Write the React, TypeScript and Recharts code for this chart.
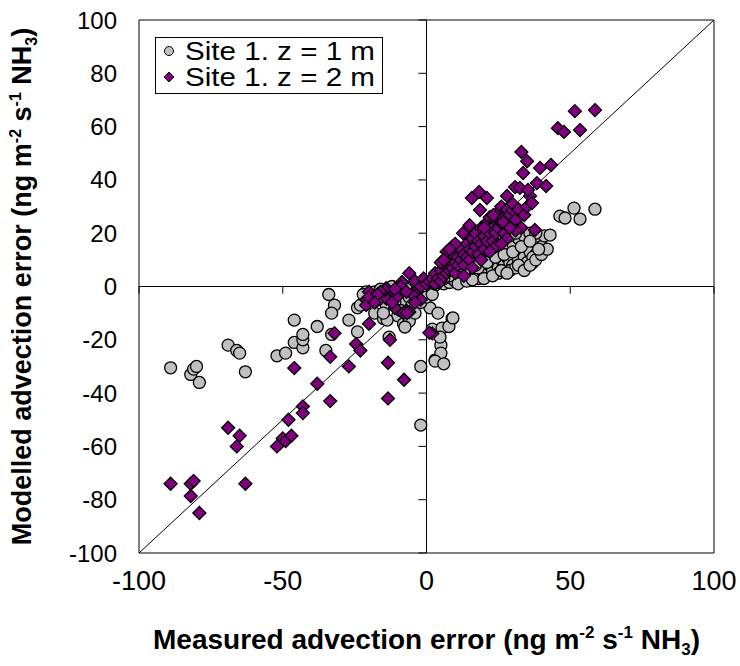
import React from 'react';
import {
  ScatterChart,
  Scatter,
  XAxis,
  YAxis,
  ReferenceLine,
  ReferenceArea,
  Legend,
} from 'recharts';

// measured vs modelled advection error, site 1 at z = 1 m (grey circles)
const site1z1: [number, number][] = [
  [1, 0], [2, 1], [3, 0.5], [4, 1.5], [5, 2], [6, 1], [7, 2.5], [8, 1.5], [9, 3], [10, 2],
  [11, 4], [12, 3], [13, 2.5], [14, 5], [15, 3.5], [16, 6], [17, 4], [18, 3], [19, 6.5], [20, 5],
  [21, 4.5], [22, 8], [23, 6], [24, 9], [25, 7], [26, 10], [27, 8], [28, 11], [29, 9], [30, 8],
  [31, 12.5], [32, 10], [33, 14], [34, 11], [35, 16], [36, 13], [37, 9], [38, 12], [39, 17], [40, 15],
  [41, 19], [43, 19.3], [46.4, 26.4], [48.2, 25.7], [51.3, 29.4], [53.4, 25.3], [58.6, 29],
  [10, 6], [12, 7], [14, 8], [16, 9], [18, 10], [20, 11], [22, 12], [24, 13], [26, 14], [28, 15],
  [30, 16], [32, 18], [34, 19], [36, 20], [38, 20], [15, 9], [18, 7], [21, 9], [24, 11], [27, 12],
  [30, 13], [33, 15], [36, 17], [13, 5], [17, 8], [25, 5], [29, 6], [31, 7], [35, 9], [37, 11],
  [8, 4], [6, 3], [4, 2.5], [11, 1], [14, 2], [16, 2.5], [20, 3], [23, 4], [26, 6], [28, 5],
  [32, 8], [34, 6], [36, 8], [38, 10], [40, 12], [42, 14], [39, 14], [19, 13], [22, 15], [25, 16],
  [27, 18], [29, 19], [31, 20],
  [-89, -30.5], [-82, -33], [-81, -31], [-80, -30], [-79, -36], [-69, -22], [-66, -24], [-65, -25],
  [-63, -32], [-52, -26], [-49, -25], [-46, -21], [-43, -23], [-46, -12.6], [-43, -20], [-43, -18],
  [-38, -15], [-35, -24], [-34, -3], [-32, -7], [-33, -10], [-33, -18], [-27, -12.6], [-24, -8],
  [-23, -7], [-24, -17], [-21, -2], [-19, -4], [-18, -10], [-14, -7], [-15, -12], [-13, -19],
  [-10, -11], [-8, -14], [-6, -13], [-2, -30], [-2, -52], [3, -27.6], [2, -16], [5, -22], [5, -25],
  [3, -28], [6, -29], [1.2, -8], [4, -10], [8.9, -12], [5.4, -15.6], [4.7, -19], [-7.5, -15.2],
  [-13.7, -12.6], [-15, -10], [7.8, -15], [9.2, -11.8],
  [-18, -2], [-16, -1], [-12, -3], [-10, -2], [-8, -5], [-6, -4], [-5, -7], [-3, -3], [-2, -6],
  [-1, -2], [0, -4], [2, -3], [-20, -5], [-11, -6], [-9, -9], [-4, -10], [-7, -1], [-12, 0],
  [-22, -3], [-17, -5],
];

// site 1 at z = 2 m (purple diamonds)
const site1z2: [number, number][] = [
  [-89, -74], [-82, -78.6], [-82, -74], [-81, -73], [-79, -85], [-69, -53], [-66, -60], [-65, -56],
  [-63, -74], [-52, -60], [-50, -57], [-49, -58], [-47, -56], [-48, -50], [-46, -30.6], [-43, -45],
  [-43, -47.5], [-38, -36.5], [-33.5, -43], [-33.5, -26.4], [-32, -17.5], [-27, -30], [-24.5, -21.6],
  [-23, -24], [-20, -14], [-13.4, -28.6], [-13.4, -42], [-12.7, -20], [-7.8, -35], [2, -17.6],
  [-20, -2], [-21, -5], [-14, -3], [-10, -2], [-7, -9], [-8, -10], [-21, -7], [-20, -4], [-14, -0.6],
  [-14, -4.5], [-11, -8], [-6, -9.6], [1, -17.4], [-8.5, 1.7], [-6, 5], [-3.5, -1.3], [2.4, 1.2],
  [-6.8, -10], [-14.4, -1.3], [-10.3, -3.9], [-16, -2], [-12, -6], [-5, -3], [-4, 2], [-2, 0],
  [-1, 3], [0, 1], [-9, 0], [-17, -3], [-2, -5], [-18, -6], [-11, -1], [-7, -2], [-4, -6],
  [1, 2], [2, 3], [3, 1], [3, 5], [4, 3], [5, 6], [5, 2], [6, 4], [7, 8], [7, 5], [8, 6], [8, 10],
  [9, 7], [9, 12], [10, 9], [10, 5], [11, 11], [11, 8], [12, 14], [12, 10], [13, 12], [13, 8],
  [14, 16], [14, 11], [15, 14], [15, 10], [16, 18], [16, 13], [17, 15], [17, 20], [18, 17], [18, 12],
  [19, 22], [19, 16], [20, 19], [20, 14], [21, 24], [21, 17], [22, 20], [22, 26], [23, 22], [23, 17],
  [24, 25], [24, 20], [25, 28], [25, 22], [26, 24], [26, 30], [27, 26], [27, 20], [28, 29], [28, 23],
  [29, 27], [30, 28.7], [30, 31], [31, 25], [32, 29], [33, 22], [34, 26.8], [35, 30], [36, 34],
  [37.7, 21.2], [36.7, 31.3],
  [15.8, 33.2], [18.3, 35.5], [21, 33.2], [28, 34], [30.8, 37.3], [32.5, 37], [35.3, 36.2],
  [38.4, 38.8], [41.6, 37.7], [39.5, 44.5], [43.3, 45.6], [33.6, 42.6], [35, 47], [33, 50.5],
  [45.7, 59.4], [47.8, 58], [53.4, 58.7], [51.6, 65.8], [58.6, 66.2],
  [23.2, 26.8], [26.6, 24.2], [18.6, 28.7], [12.7, 20], [15, 23], [9, 15], [7, 13], [5, 9],
  [20, 22], [24, 15], [28, 18], [31, 21], [13, 4], [16, 7], [19, 10], [22, 13], [26, 16], [29, 22],
  [10, 16], [8, 14], [6, 10],
];

const xTicks = [-100, -50, 0, 50, 100];
const yTicks = [-100, -80, -60, -40, -20, 0, 20, 40, 60, 80, 100];
const seriesNames = ['Site 1. z = 1 m', 'Site 1. z = 2 m'];

const FONT = '"Liberation Sans", Arial, sans-serif';

const toPoints = (arr: [number, number][]) => arr.map(([x, y]) => ({ x, y }));

const Circle = (props: any) => (
  <circle cx={props.cx} cy={props.cy} r={6} fill="#c0c0c0" stroke="#000" strokeWidth={1.3} />
);

const Diamond = (props: any) => {
  const { cx, cy } = props;
  const s = 6.5;
  return (
    <path
      d={`M${cx},${cy - s}L${cx + s},${cy}L${cx},${cy + s}L${cx - s},${cy}Z`}
      fill="#800080"
      stroke="#000"
      strokeWidth={1.3}
    />
  );
};

const Units = ({ size }: { size: number }) => {
  const sm = Math.round(size * 0.6);
  const up = Math.round(size * 0.38);
  const dn = Math.round(size * 0.22);
  return (
    <>
      (ng m<tspan dy={-up} fontSize={sm}>-2</tspan>
      <tspan dy={up}> s</tspan><tspan dy={-up} fontSize={sm}>-1</tspan>
      <tspan dy={up}> NH</tspan><tspan dy={dn} fontSize={sm}>3</tspan><tspan dy={-dn}>)</tspan>
    </>
  );
};

const XTitle = (props: any) => {
  const { viewBox } = props;
  const cx = viewBox.x + viewBox.width / 2;
  return (
    <text x={cx} y={viewBox.y + 96} textAnchor="middle" fontFamily={FONT} fontWeight="bold" fontSize={28} fill="#000">
      Measured advection error <Units size={28} />
    </text>
  );
};

const YTitle = (props: any) => {
  const { viewBox } = props;
  const cy = viewBox.y + viewBox.height / 2;
  const x = 22;
  return (
    <text
      x={x}
      y={cy}
      transform={`rotate(-90, ${x}, ${cy})`}
      dy="0.35em"
      textAnchor="middle"
      fontFamily={FONT}
      fontWeight="bold"
      fontSize={27}
      fill="#000"
    >
      Modelled advection error <Units size={27} />
    </text>
  );
};

const LegendBox = () => (
  <svg width={229} height={58} style={{ display: 'block' }}>
    <rect x={0.5} y={0.5} width={227} height={56} fill="#fff" stroke="#000" />
    <circle cx={14} cy={14} r={4.5} fill="#c0c0c0" stroke="#000" strokeWidth={1} />
    <text x={30} y={23} fontFamily={FONT} fontSize={25} fill="#000" textLength={190} lengthAdjust="spacingAndGlyphs">
      {seriesNames[0]}
    </text>
    <path d="M14,35L19,40L14,45L9,40Z" fill="#800080" stroke="#000" strokeWidth={1} />
    <text x={30} y={49} fontFamily={FONT} fontSize={25} fill="#000" textLength={190} lengthAdjust="spacingAndGlyphs">
      {seriesNames[1]}
    </text>
  </svg>
);

export default function App() {
  return (
    <div style={{ width: 740, height: 666, position: 'relative', overflow: 'hidden' }}>
      <style>{'body{margin:0;overflow:hidden}'}</style>
      <ScatterChart width={740} height={666} margin={{ top: 20, right: 26, bottom: 33, left: 0 }}>
        <XAxis
          type="number"
          dataKey="x"
          domain={[-100, 100]}
          ticks={xTicks}
          axisLine={false}
          tickLine={false}
          tickSize={0}
          tickMargin={18}
          height={80}
          tick={{ fill: '#000', fontSize: 27, fontFamily: FONT }}
          label={<XTitle />}
        />
        <YAxis
          type="number"
          dataKey="y"
          domain={[-100, 100]}
          ticks={yTicks}
          axisLine={false}
          tickLine={false}
          tickSize={0}
          tickMargin={22}
          width={139}
          tick={{ fill: '#000', fontSize: 24, fontFamily: FONT }}
          label={<YTitle />}
        />
        <ReferenceArea x1={-100} x2={100} y1={-100} y2={100} fill="none" stroke="#000" strokeWidth={1} />
        <ReferenceLine x={0} stroke="#000" strokeWidth={1} />
        <ReferenceLine y={0} stroke="#000" strokeWidth={1} />
        {yTicks.map((v) => (
          <ReferenceLine key={`yt${v}`} segment={[{ x: -2.8, y: v }, { x: 0, y: v }]} stroke="#000" />
        ))}
        {xTicks.map((v) => (
          <ReferenceLine key={`xt${v}`} segment={[{ x: v, y: 0 }, { x: v, y: -2.7 }]} stroke="#000" />
        ))}
        <ReferenceLine segment={[{ x: -100, y: -100 }, { x: 100, y: 100 }]} stroke="#000" strokeWidth={1} />
        <Legend
          layout="vertical"
          align="center"
          verticalAlign="middle"
          content={<LegendBox />}
          wrapperStyle={{ position: 'absolute', left: 155, top: 37, width: 'auto', height: 'auto' }}
        />
        <Scatter name={seriesNames[0]} data={toPoints(site1z1)} shape={<Circle />} isAnimationActive={false} />
        <Scatter name={seriesNames[1]} data={toPoints(site1z2)} shape={<Diamond />} isAnimationActive={false} />
      </ScatterChart>
    </div>
  );
}
